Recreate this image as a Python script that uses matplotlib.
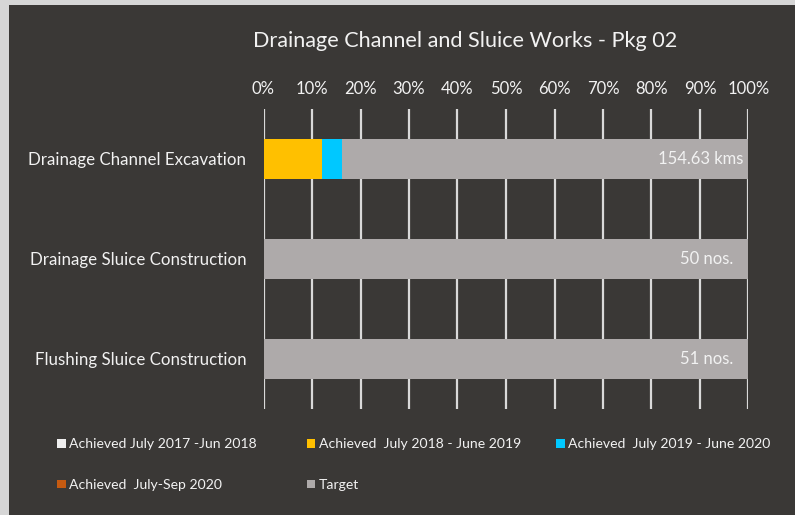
import matplotlib
matplotlib.use("Agg")
import matplotlib.pyplot as plt
from matplotlib.patches import Rectangle, Patch
import numpy as np

plt.rcParams['font.family'] = ['Lato', 'DejaVu Sans']

categories = ["Drainage Channel Excavation", "Drainage Sluice Construction", "Flushing Sluice Construction"]
series_names = ["Achieved July 2017 -Jun 2018", "Achieved  July 2018 - June 2019",
                "Achieved  July 2019 - June 2020", "Achieved  July-Sep 2020", "Target"]
ach_2017_18 = [0.0, 0.0, 0.0]
ach_2018_19 = [12.0, 0.0, 0.0]
ach_2019_20 = [4.1, 0.0, 0.0]
ach_2020_sep = [0.0, 0.0, 0.0]
target = [100 - a - b - c - d for a, b, c, d in zip(ach_2017_18, ach_2018_19, ach_2019_20, ach_2020_sep)]
target_labels = ["154.63 kms", "50 nos.", "51 nos."]
xticks = list(range(0, 101, 10))
xtick_labels = [f"{t}%" for t in xticks]

colors = ["#efefef", "#ffc000", "#00c8ff", "#c55a11", "#aeaaaa"]
bg = "#3a3836"
txt = "#f2f2f2"

W, H = 795, 515
fig = plt.figure(figsize=(W / 100, H / 100), dpi=100)
fig.patch.set_facecolor("#d6d6d6")
fig.patches.append(Rectangle((9 / W, 0), 1 - 9 / W, 1 - 5 / H, transform=fig.transFigure,
                             facecolor=bg, edgecolor="none", zorder=-10))

ax = fig.add_axes([263.5 / W, 1 - 408.5 / H, (748.5 - 263.5) / W, 299.5 / H])
ax.set_zorder(5)
ax.set_facecolor("none")
for s in ax.spines.values():
    s.set_visible(False)

y = np.arange(len(categories))
series = [ach_2017_18, ach_2018_19, ach_2019_20, ach_2020_sep, target]
left = np.zeros(len(categories))
handles = []
for vals, col, name in zip(series, colors, series_names):
    ax.barh(y, vals, left=left, height=0.4, color=col, label=name, zorder=3)
    handles.append(Patch(facecolor=col, edgecolor="none"))
    left += np.array(vals)

label_x = [99.0, 96.8, 96.8]
for yi, lx, lab in zip(y, label_x, target_labels):
    ax.text(lx, yi, lab, ha="right", va="center", color=txt, fontsize=12, zorder=4)

ax.set_xlim(0, 100)
ax.set_ylim(2.5, -0.5)
ax.xaxis.tick_top()
ax.set_xticks(xticks)
ax.set_xticklabels(xtick_labels, color=txt, fontsize=12)
ax.set_yticks(y)
ax.set_yticklabels(categories, color=txt, fontsize=12.2)
ax.tick_params(axis="x", length=0, pad=9)
ax.tick_params(axis="y", length=0, pad=12.5)
for t in xticks:
    ax.axvline(t, color="#d9d9d9", lw=1.6, zorder=1)

fig.text(465 / W, 1 - 41 / H, "Drainage Channel and Sluice Works - Pkg 02",
         ha="center", va="center", color=txt, fontsize=15.6)

# legend: three columns placed like the reference
col_items = [[0, 3], [1, 4], [2]]
col_x = [46, 295.5, 545]
for items, cx in zip(col_items, col_x):
    leg = fig.legend([handles[i] for i in items], [series_names[i] for i in items],
                     loc="upper left", bbox_to_anchor=(cx / W, 1 - 427 / H), frameon=False,
                     labelcolor=txt, fontsize=10.1, handlelength=0.6, handleheight=0.6,
                     handletextpad=0.25, labelspacing=2.05, borderpad=0.3)
    leg.set_zorder(6)

fig.savefig("out.png", dpi=100, facecolor=fig.get_facecolor())
